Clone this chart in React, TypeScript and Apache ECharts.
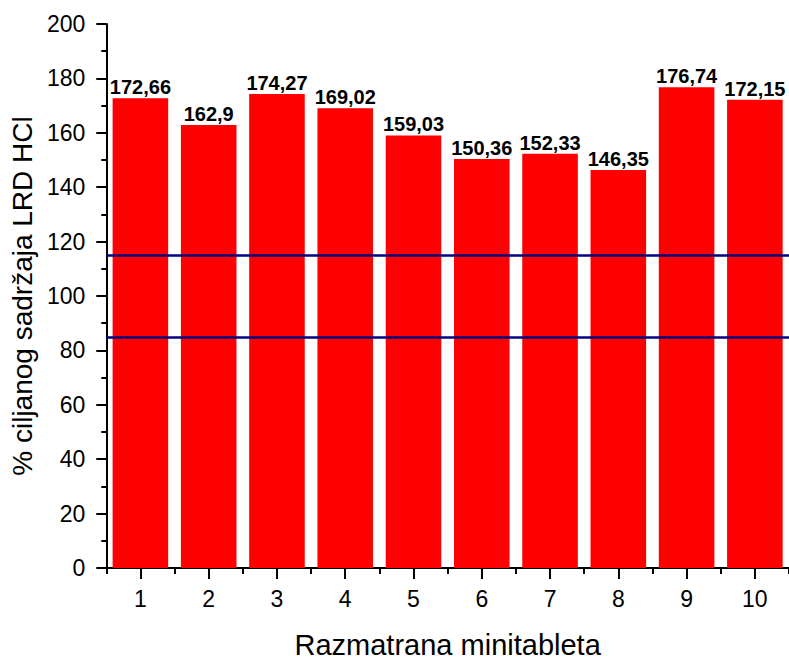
import React, { useEffect, useRef } from "react";
import * as echarts from "echarts";

const categories = ["1", "2", "3", "4", "5", "6", "7", "8", "9", "10"];
const values = [172.66, 162.9, 174.27, 169.02, 159.03, 150.36, 152.33, 146.35, 176.74, 172.15];
const limitLines = [85, 115];
const yTitle = "% ciljanog sadržaja LRD HCl";
const xTitle = "Razmatrana minitableta";

const FONT = "'Liberation Sans', Arial, sans-serif";

export default function App() {
  const ref = useRef<HTMLDivElement>(null);
  useEffect(() => {
    if (!ref.current) return;
    const chart = echarts.init(ref.current, null, { renderer: "svg" });
    chart.setOption({
      animation: false,
      grid: { left: 104, top: 24, width: 688, height: 556, containLabel: false },
      xAxis: [
        {
          type: "category",
          data: categories,
          position: "bottom",
          name: xTitle,
          nameLocation: "middle",
          nameGap: 62,
          nameTextStyle: { fontFamily: FONT, fontSize: 29, color: "#000" },
          axisLine: { show: true, lineStyle: { color: "#000", width: 2 } },
          axisTick: { show: true, alignWithLabel: true, length: 11, lineStyle: { color: "#000", width: 2 } },
          axisLabel: { fontFamily: FONT, fontSize: 23, color: "#000", margin: 19 },
          splitLine: { show: false },
        },
        {
          type: "category",
          data: categories,
          position: "bottom",
          axisLine: { show: false },
          axisTick: { show: true, alignWithLabel: false, length: 6, lineStyle: { color: "#000", width: 2 } },
          axisLabel: { show: false },
          splitLine: { show: false },
        },
      ],
      yAxis: {
        type: "value",
        min: 0,
        max: 200,
        interval: 20,
        name: yTitle,
        nameLocation: "middle",
        nameGap: 61,
        nameTextStyle: { fontFamily: FONT, fontSize: 28, color: "#000" },
        axisLine: { show: true, lineStyle: { color: "#000", width: 2 } },
        axisTick: { show: true, length: 10, lineStyle: { color: "#000", width: 2 } },
        minorTick: { show: true, splitNumber: 2, length: 5, lineStyle: { color: "#000", width: 2 } },
        axisLabel: { fontFamily: FONT, fontSize: 23, color: "#000", margin: 21 },
        splitLine: { show: false },
      },
      series: [
        {
          type: "bar",
          xAxisIndex: 0,
          data: values,
          barCategoryGap: "18.6%",
          itemStyle: { color: "#ff0000" },
          label: {
            show: true,
            position: "top",
            distance: 1,
            fontFamily: FONT,
            fontSize: 20,
            fontWeight: "bold",
            color: "#000",
            formatter: (p: any) => String(p.value).replace(".", ","),
          },
          markLine: {
            silent: true,
            symbol: ["none", "none"],
            label: { show: false },
            lineStyle: { color: "#000080", width: 2.5, type: "solid" },
            data: limitLines.map((v) => ({ yAxis: v })),
          },
        },
      ],
    });
    return () => chart.dispose();
  }, []);
  return (
    <div
      ref={ref}
      style={{ position: "absolute", left: 0, top: 0, width: 789, height: 664, background: "#fff" }}
    />
  );
}
